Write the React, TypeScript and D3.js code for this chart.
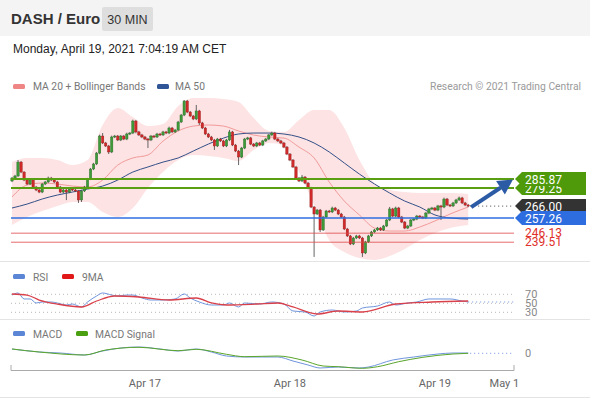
import React from 'react';
import * as d3 from 'd3';

// ---------- DATA ----------
const firstOpen = 284.4;
const closes = [
  286.6, 288.1, 298.3, 291.0, 285.1, 282.2, 285.1, 280.0, 277.8, 276.3,
  282.2, 283.7, 286.6, 285.1, 283.7, 280.0, 276.3, 277.8, 276.3, 278.5,
  277.8, 277.1, 270.5, 277.1, 280.0, 285.9, 293.2, 296.9, 304.9, 317.4,
  312.3, 310.1, 305.7, 316.7, 317.4, 314.5, 317.4, 315.2, 318.9, 319.6,
  328.4, 320.4, 318.2, 316.7, 315.2, 314.5, 317.4, 316.7, 318.9, 318.2,
  320.4, 319.6, 323.3, 320.4, 321.8, 327.7, 332.8, 343.1, 335.0, 332.1,
  329.9, 335.8, 327.0, 323.3, 318.9, 316.7, 314.5, 310.1, 315.2, 313.8,
  310.1, 314.5, 320.4, 310.8, 306.4, 302.0, 308.6, 315.2, 316.0, 311.5,
  310.1, 312.3, 310.8, 313.8, 315.2, 318.2, 319.6, 315.2, 313.8, 312.3,
  309.3, 304.2, 299.8, 294.7, 286.6, 284.4, 287.3, 282.9, 279.3, 265.3,
  260.2, 263.1, 248.5, 258.0, 262.4, 261.7, 264.6, 263.1, 260.2, 258.0,
  249.2, 244.1, 238.2, 242.6, 244.1, 242.6, 231.6, 239.7, 244.1, 247.0,
  248.5, 249.9, 248.5, 251.4, 255.8, 263.9, 258.7, 264.6, 258.0, 254.3,
  249.9, 251.4, 255.8, 256.5, 258.7, 258.0, 257.3, 260.9, 263.9, 264.6,
  263.1, 266.1, 265.3, 271.2, 266.8, 266.1, 268.3, 270.5, 272.0, 268.3,
  266.8, 266.0,
];
const upperWick = [
  0.8, 0.8, 1.5, 0.8, 0.6, 0.8, 0.8, 0.6, 0.8, 0.8,
  0.8, 0.8, 1.0, 0.8, 0.6, 0.8, 0.8, 1.0, 0.8, 0.8,
  0.8, 0.8, 0.6, 0.8, 0.8, 0.8, 0.8, 0.8, 0.8, 1.0,
  2.2, 0.8, 0.8, 1.0, 0.8, 0.8, 0.8, 0.8, 1.0, 0.8,
  1.0, 0.8, 0.8, 0.8, 0.8, 0.8, 0.8, 0.8, 0.8, 0.8,
  0.8, 0.8, 1.0, 0.8, 0.8, 0.8, 0.8, 0.7, 0.8, 0.8,
  0.8, 4.4, 0.8, 0.8, 0.8, 0.8, 0.8, 0.8, 0.8, 0.8,
  0.8, 0.8, 1.5, 0.8, 0.8, 0.8, 0.8, 0.8, 0.8, 0.8,
  0.8, 0.8, 0.8, 0.8, 0.8, 0.8, 1.0, 0.8, 0.8, 0.8,
  0.8, 0.8, 0.8, 0.8, 0.8, 0.8, 1.5, 0.8, 0.8, 0.8,
  0.8, 0.8, 0.8, 0.8, 0.8, 0.8, 1.0, 0.8, 0.8, 0.8,
  0.8, 0.8, 0.8, 0.8, 0.8, 0.8, 0.8, 0.8, 0.8, 0.8,
  0.8, 0.8, 0.8, 0.8, 0.8, 1.5, 0.8, 1.0, 0.8, 0.8,
  0.8, 0.8, 0.8, 0.8, 0.8, 0.8, 0.8, 0.8, 0.8, 0.8,
  0.8, 0.8, 0.8, 1.0, 0.8, 0.8, 0.8, 0.8, 1.0, 0.8,
  0.8, 0.8,
];
const lowerWick = [
  0.8, 0.8, 0.8, 0.8, 0.8, 0.8, 0.8, 0.8, 0.8, 0.8,
  0.8, 0.8, 0.8, 0.8, 0.8, 0.8, 0.8, 0.8, 5.9, 0.8,
  0.8, 0.8, 2.2, 1.5, 0.8, 0.8, 0.8, 0.8, 0.8, 0.8,
  0.8, 0.8, 1.5, 0.8, 0.8, 0.8, 0.8, 0.8, 0.8, 0.8,
  0.8, 1.0, 0.8, 0.8, 0.8, 5.9, 0.8, 0.8, 0.8, 0.8,
  0.8, 0.8, 0.8, 0.8, 0.8, 0.8, 0.8, 0.8, 0.8, 0.8,
  0.8, 0.8, 1.5, 0.8, 0.8, 0.8, 0.8, 2.9, 0.8, 0.8,
  0.8, 0.8, 0.8, 0.8, 0.8, 5.9, 0.8, 0.8, 0.8, 0.8,
  0.8, 0.8, 0.8, 0.8, 0.8, 0.8, 0.8, 0.8, 0.8, 0.8,
  0.8, 0.8, 0.8, 0.8, 0.8, 0.8, 0.8, 0.8, 0.8, 0.8,
  31.5, 0.8, 1.5, 0.8, 0.8, 0.8, 0.8, 0.8, 0.8, 0.8,
  0.8, 0.8, 0.8, 0.8, 0.8, 0.8, 2.9, 0.8, 0.8, 0.8,
  0.8, 0.8, 0.8, 0.8, 0.8, 0.8, 0.8, 0.8, 0.8, 0.8,
  0.8, 0.8, 0.8, 0.8, 0.8, 0.8, 0.8, 0.8, 0.8, 0.8,
  0.8, 0.8, 9.5, 0.8, 0.8, 0.8, 0.8, 0.8, 0.8, 0.8,
  0.8, 0.8,
];

const bandIdx = [0, 5, 10, 15, 20, 25, 30, 35, 40, 45, 50, 55, 60, 65, 70, 75, 80, 85, 90, 95, 100, 105, 110, 115, 120, 125, 130, 135, 140, 145, 151];
const ma20 = [272.7, 281.5, 282.9, 282.2, 280.7, 280.0, 285.1, 296.1, 301.3, 303.5, 313.7, 321.1, 324.7, 325.5, 324.7, 321.1, 318.1, 316.7, 315.9, 309.3, 301.3, 283.7, 269.7, 259.5, 249.9, 247.7, 247.7, 250.7, 255.1, 260.2, 265.3];
const ma50 = [264.6, 267.5, 271.2, 274.1, 276.3, 278.5, 280.7, 285.1, 291.0, 294.7, 298.3, 301.3, 306.4, 311.5, 315.9, 318.9, 319.6, 319.6, 318.9, 316.7, 312.3, 305.7, 297.6, 289.5, 282.2, 275.6, 269.7, 265.3, 259.5, 257.3, 256.5];
const bbUpper = [298.3, 301.3, 301.3, 299.8, 296.1, 299.8, 325.5, 338.0, 331.3, 324.7, 326.2, 339.4, 345.3, 345.3, 344.6, 342.4, 330.6, 321.1, 320.4, 329.2, 336.5, 336.5, 323.3, 299.8, 282.9, 277.8, 276.3, 275.6, 275.6, 275.6, 274.9];
const bbLower = [252.1, 258.0, 262.4, 266.1, 269.0, 269.0, 261.7, 258.0, 264.6, 279.3, 291.0, 299.8, 303.5, 302.7, 301.3, 299.1, 307.1, 312.3, 310.8, 291.0, 266.8, 241.1, 232.3, 227.9, 226.5, 229.4, 234.5, 241.1, 246.3, 249.9, 252.1];

const rsiIdx = [0, 2, 4, 6, 8, 10, 13, 15, 18, 20, 23, 25, 28, 30, 33, 35, 38, 40, 43, 46, 50, 54, 57, 59, 62, 66, 70, 72, 75, 77, 82, 86, 90, 93, 97, 100, 102, 106, 110, 114, 116, 121, 125, 127, 131, 134, 138, 142, 145, 149, 151];
const rsi = [68.4, 72.9, 59.6, 59.6, 50.7, 52.9, 52.9, 50.7, 46.2, 48.4, 41.8, 52.9, 66.2, 72.9, 68.4, 66.2, 68.4, 68.4, 61.8, 57.3, 57.3, 59.6, 70.7, 61.8, 52.9, 46.2, 46.2, 50.7, 41.8, 50.7, 48.4, 52.9, 48.4, 32.9, 30.7, 21.8, 30.7, 35.1, 30.7, 32.9, 39.6, 44.0, 52.9, 46.2, 50.7, 52.9, 59.6, 59.6, 59.6, 55.1, 52.9];
const rsiMaIdx = [0, 5, 9, 15, 23, 28, 34, 42, 52, 61, 66, 71, 81, 88, 93, 101, 108, 116, 127, 139, 151];
const rsiMa = [70.7, 68.4, 57.3, 48.4, 41.8, 55.1, 66.2, 64.0, 57.3, 61.8, 50.7, 46.2, 48.4, 50.7, 41.8, 26.2, 32.9, 30.7, 48.4, 52.9, 55.1];
const rsiLevels = [70, 50, 30];

const macdIdx = [0, 9, 16, 24, 30, 36, 42, 49, 55, 61, 66, 71, 77, 83, 88, 93, 98, 102, 108, 115, 118, 126, 133, 141, 146, 151];
const macd = [4.3, 1.3, 0.3, -1.7, 2.3, 5.3, 6.3, 4.3, 2.3, 4.3, 1.3, -2.7, -3.7, -3.7, -3.7, -7.7, -11.7, -14.7, -13.7, -14.7, -13.7, -6.7, -3.7, -0.7, 0.3, 0.3];
const sigIdx = [0, 9, 24, 31, 42, 55, 61, 71, 77, 88, 96, 103, 108, 116, 121, 128, 136, 146, 151];
const macdSignal = [4.3, 1.3, -1.7, 3.3, 6.0, 2.6, 4.0, -1.0, -3.4, -2.7, -6.7, -12.7, -13.4, -15.0, -13.4, -8.4, -4.0, -0.7, 0.0];

const resistances = [285.87, 279.25];
const lastPrice = 266.0;
const pivot = 257.26;
const supports = [246.13, 239.51];

const tickIdx = [44, 92, 140, 163];
const tickLabels = ['Apr 17', 'Apr 18', 'Apr 19', 'May 1'];

// ---------- CHART ----------
const W = 590;
const H = 400;
const X0 = 11;
const X1 = 514;

const FONT = 'Roboto, "Liberation Sans", Arial, sans-serif';
const HFONT = '"Liberation Sans", Arial, sans-serif';

const GREEN_LVL = '#5a9e12';
const BLUE_LVL = '#2f6fe0';
const RED_LVL = '#e0494a';

function Tag({ y, color, text }: { y: number; color: string; text: string }) {
  const h = 7;
  const pts = [
    [X1 + 1, y],
    [X1 + 8, y - h],
    [586, y - h],
    [586, y + h],
    [X1 + 8, y + h],
  ]
    .map((p) => p.join(','))
    .join(' ');
  return (
    <g>
      <polygon points={pts} fill={color} />
      <text x={525} y={y + 4.5} fill="#fff" fontSize={12} fontFamily={FONT}>
        {text}
      </text>
    </g>
  );
}

export default function App() {
  const xs = d3.scaleLinear().domain([0, 166]).range([12, 513.5]);
  const ys = d3.scaleLinear().domain([220, 350]).range([268.8, 91.6]);
  const rsiY = d3.scaleLinear().domain([30, 70]).range([312.3, 294.3]);
  const macdY = d3.scaleLinear().domain([-15, 5]).range([368.3, 348.3]);

  const opens = closes.map((c, i) => (i === 0 ? firstOpen : closes[i - 1]));

  const lineOf = (idx: number[], yScale: d3.ScaleLinear<number, number>) =>
    d3
      .line<number>()
      .x((_, k) => xs(idx[k]))
      .y((v) => yScale(v))
      .curve(d3.curveMonotoneX);

  const bandArea = d3
    .area<number>()
    .x((_, k) => xs(bandIdx[k]))
    .y0((_, k) => ys(bbLower[k]))
    .y1((v) => ys(v))
    .curve(d3.curveMonotoneX);

  const lastX = xs(closes.length - 1);
  const lastY = ys(lastPrice);

  const arrowStart: [number, number] = [lastX + 3, lastY + 1];
  const arrowEnd: [number, number] = [X1 - 1, ys(resistances[0]) + 0.5];
  const ang = Math.atan2(arrowEnd[1] - arrowStart[1], arrowEnd[0] - arrowStart[0]);
  const headLen = 15;
  const headW = 8;
  const hb: [number, number] = [arrowEnd[0] - headLen * Math.cos(ang), arrowEnd[1] - headLen * Math.sin(ang)];
  const headPts = [
    arrowEnd,
    [hb[0] + headW * Math.sin(ang), hb[1] - headW * Math.cos(ang)],
    [hb[0] - headW * Math.sin(ang), hb[1] + headW * Math.cos(ang)],
  ]
    .map((p) => p.join(','))
    .join(' ');

  return (
    <svg
      width={W}
      height={H}
      style={{ position: 'absolute', left: 0, top: 0, background: '#fff' }}
      fontFamily={FONT}
    >
      {/* header */}
      <rect x={0} y={0} width={W} height={36} fill="#f4f4f4" />
      <text x={11} y={24} fontSize={15} fontWeight="bold" fill="#333" fontFamily={HFONT}>
        DASH / Euro
      </text>
      <rect x={102} y={7} width={51} height={24} fill="#dedede" rx={2} />
      <text x={127.5} y={24} fontSize={12.5} fill="#333" textAnchor="middle" fontFamily={HFONT}>
        30 MIN
      </text>
      <text x={13} y={53} fontSize={12} fill="#222" fontFamily={HFONT}>
        Monday, April 19, 2021 7:04:19 AM CET
      </text>

      {/* legend */}
      <rect x={13} y={84} width={12} height={5} rx={1.5} fill="#f08585" />
      <text x={33} y={90} fontSize={10.3} fill="#777">MA 20 + Bollinger Bands</text>
      <rect x={157} y={84} width={12} height={5} rx={1.5} fill="#2f5597" />
      <text x={175} y={90} fontSize={10.3} fill="#777">MA 50</text>
      <text x={581} y={90} fontSize={10.3} fill="#9a9a9a" textAnchor="end">
        Research © 2021 Trading Central
      </text>

      {/* bollinger band */}
      <path d={bandArea(bbUpper) || ''} fill="#fde0e0" opacity={0.9} />
      <path d={lineOf(bandIdx, ys)(ma20) || ''} fill="none" stroke="#f29a9a" strokeWidth={1} />
      <path d={lineOf(bandIdx, ys)(ma50) || ''} fill="none" stroke="#34508a" strokeWidth={1} />

      {/* candles */}
      {closes.map((c, i) => {
        const o = opens[i];
        const up = c >= o;
        const hi = Math.max(o, c) + upperWick[i];
        const lo = Math.min(o, c) - lowerWick[i];
        const x = xs(i);
        const yTop = ys(Math.max(o, c));
        const yBot = ys(Math.min(o, c));
        const fill = up ? '#3f9a3a' : '#d02a2a';
        const stroke = up ? '#2a6e2a' : '#9e1d1d';
        return (
          <g key={i}>
            <line x1={x} x2={x} y1={ys(hi)} y2={ys(lo)} stroke="#555" strokeWidth={0.9} />
            <rect
              x={x - 1.2}
              y={yTop}
              width={2.4}
              height={Math.max(1, yBot - yTop)}
              fill={fill}
              stroke={stroke}
              strokeWidth={0.4}
            />
          </g>
        );
      })}

      {/* levels */}
      {resistances.map((r) => (
        <line key={r} x1={X0} x2={X1} y1={ys(r)} y2={ys(r)} stroke={GREEN_LVL} strokeWidth={2} />
      ))}
      <line x1={X0} x2={X1} y1={ys(pivot)} y2={ys(pivot)} stroke={BLUE_LVL} strokeWidth={1.5} />
      {supports.map((s) => (
        <line key={s} x1={X0} x2={X1} y1={ys(s)} y2={ys(s)} stroke={RED_LVL} strokeWidth={1} opacity={0.8} />
      ))}
      <line
        x1={lastX + 2}
        x2={X1}
        y1={lastY}
        y2={lastY}
        stroke="#444"
        strokeWidth={1}
        strokeDasharray="1,3"
      />

      {/* arrow */}
      <line
        x1={arrowStart[0]}
        y1={arrowStart[1]}
        x2={hb[0]}
        y2={hb[1]}
        stroke="#2c5ba6"
        strokeWidth={4}
      />
      <polygon points={headPts} fill="#2c5ba6" />

      {/* tags */}
      <Tag y={ys(resistances[1])} color="#4f9a0a" text={resistances[1].toFixed(2)} />
      <Tag y={ys(resistances[0])} color="#4f9a0a" text={resistances[0].toFixed(2)} />
      <Tag y={ys(lastPrice)} color="#333333" text={lastPrice.toFixed(2)} />
      <Tag y={ys(pivot)} color="#2d6de0" text={pivot.toFixed(2)} />
      {supports.map((s) => (
        <text key={s} x={525} y={ys(s) + 4} fontSize={12} fill="#e0302a">
          {s.toFixed(2)}
        </text>
      ))}

      {/* separators */}
      <line x1={0} x2={W} y1={261.5} y2={261.5} stroke="#e4e4e4" />
      <line x1={0} x2={W} y1={319.5} y2={319.5} stroke="#e4e4e4" />
      <line x1={0} x2={W} y1={397.5} y2={397.5} stroke="#e4e4e4" />

      {/* RSI panel */}
      <rect x={13} y={274} width={12} height={5} rx={1.5} fill="#5b86d6" />
      <text x={33} y={281} fontSize={10.3} fill="#777">RSI</text>
      <rect x={62} y={274} width={12} height={5} rx={1.5} fill="#e01818" />
      <text x={82} y={281} fontSize={10.3} fill="#777">9MA</text>
      {rsiLevels.map((l) => (
        <g key={l}>
          <line x1={X0} x2={X1} y1={rsiY(l)} y2={rsiY(l)} stroke="#b8b8b8" strokeDasharray="1,3" />
          <text x={525} y={rsiY(l) + 4} fontSize={11} fill="#888">{l}</text>
        </g>
      ))}
      <path d={lineOf(rsiIdx, rsiY)(rsi) || ''} fill="none" stroke="#6f95dc" strokeWidth={1} />
      <path d={lineOf(rsiMaIdx, rsiY)(rsiMa) || ''} fill="none" stroke="#d9404a" strokeWidth={1.3} />
      <line
        x1={xs(151)}
        x2={X1}
        y1={rsiY(rsi[rsi.length - 1])}
        y2={rsiY(rsi[rsi.length - 1])}
        stroke="#6f95dc"
        strokeDasharray="1,3"
      />

      {/* MACD panel */}
      <rect x={13} y={331} width={12} height={5} rx={1.5} fill="#5b86d6" />
      <text x={33} y={338} fontSize={10.3} fill="#777">MACD</text>
      <rect x={76} y={331} width={12} height={5} rx={1.5} fill="#4aa010" />
      <text x={95} y={338} fontSize={10.3} fill="#777">MACD Signal</text>
      <path d={lineOf(macdIdx, macdY)(macd) || ''} fill="none" stroke="#6f95dc" strokeWidth={1} />
      <path d={lineOf(sigIdx, macdY)(macdSignal) || ''} fill="none" stroke="#5aa52a" strokeWidth={1} />
      <line x1={xs(151) + 2} x2={X1} y1={macdY(0)} y2={macdY(0)} stroke="#6f95dc" strokeDasharray="1,3" />
      <text x={525} y={macdY(0) + 4} fontSize={11} fill="#888">0</text>

      {/* x axis */}
      <path d={`M${X0},365V370.5H${X1}V365`} fill="none" stroke="#aaa" strokeWidth={1} />
      {tickIdx.map((t, k) => (
        <text key={k} x={xs(t)} y={387} fontSize={11} fill="#666" textAnchor="middle">
          {tickLabels[k]}
        </text>
      ))}
    </svg>
  );
}
